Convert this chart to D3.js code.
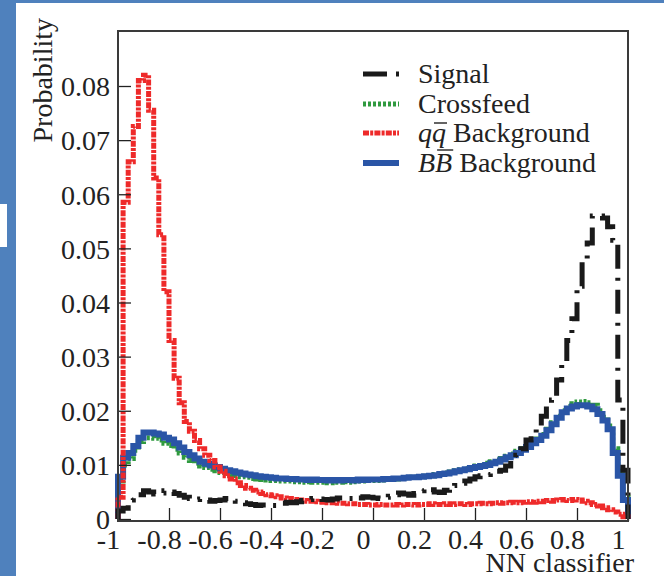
<!DOCTYPE html>
<html>
<head>
<meta charset="utf-8">
<script src="https://cdn.jsdelivr.net/npm/d3@7"></script>
<style>
  html, body { margin: 0; padding: 0; background: #fff; }
  svg { display: block; }
  text { font-family: "Liberation Serif", "Times New Roman", Times, serif; fill: #222; }
</style>
</head>
<body>
<svg id="chart" width="664" height="576"></svg>
<script>
// histogram binning: 100 bins on [-1, 1]
var xMin = -1, xMax = 1, nBins = 100;

// tick labels
var xTickValues = [-1, -0.8, -0.6, -0.4, -0.2, 0, 0.2, 0.4, 0.6, 0.8, 1];
var xTickLabels = ['-1', '-0.8', '-0.6', '-0.4', '-0.2', '0', '0.2', '0.4', '0.6', '0.8', '1'];
var yTickValues = [0, 0.01, 0.02, 0.03, 0.04, 0.05, 0.06, 0.07, 0.08];
var yTickLabels = ['0', '0.01', '0.02', '0.03', '0.04', '0.05', '0.06', '0.07', '0.08'];

// series (bin contents, left to right)
var signal = [
  0.0015, 0.0020, 0.0035, 0.0042, 0.0045, 0.0052, 0.0050, 0.0046, 0.0048, 0.0052,
  0.0050, 0.0047, 0.0044, 0.0040, 0.0038, 0.0036, 0.0037, 0.0035, 0.0033, 0.0034,
  0.0035, 0.0038, 0.0036, 0.0033, 0.0030, 0.0028, 0.0027, 0.0025, 0.0026, 0.0024,
  0.0025, 0.0027, 0.0029, 0.0031, 0.0030, 0.0032, 0.0034, 0.0036, 0.0038, 0.0037,
  0.0036, 0.0035, 0.0037, 0.0039, 0.0040, 0.0038, 0.0036, 0.0039, 0.0041, 0.0040,
  0.0039, 0.0038, 0.0040, 0.0042, 0.0045, 0.0048, 0.0046, 0.0044, 0.0047, 0.0052,
  0.0056, 0.0054, 0.0050, 0.0049, 0.0053, 0.0058, 0.0062, 0.0066, 0.0070, 0.0074,
  0.0078, 0.0080, 0.0082, 0.0085, 0.0088, 0.0090, 0.0098, 0.0112, 0.0118, 0.0130,
  0.0146, 0.0160, 0.0170, 0.0190, 0.0210, 0.0220, 0.0257, 0.0290, 0.0330, 0.0370,
  0.0430, 0.0480, 0.0510, 0.0560, 0.0560, 0.0556, 0.0540, 0.0515, 0.0220, 0.0090
];
var crossfeed = [
  0.0070, 0.0100, 0.0112, 0.0127, 0.0143, 0.0150, 0.0150, 0.0149, 0.0146, 0.0140,
  0.0136, 0.0129, 0.0122, 0.0114, 0.0108, 0.0103, 0.0098, 0.0095, 0.0092, 0.0089,
  0.0086, 0.0084, 0.0082, 0.0080, 0.0078, 0.0077, 0.0075, 0.0074, 0.0073, 0.0072,
  0.0071, 0.0071, 0.0070, 0.0070, 0.0069, 0.0069, 0.0068, 0.0069, 0.0068, 0.0068,
  0.0068, 0.0067, 0.0068, 0.0068, 0.0069, 0.0068, 0.0069, 0.0070, 0.0070, 0.0071,
  0.0071, 0.0072, 0.0073, 0.0073, 0.0074, 0.0075, 0.0076, 0.0077, 0.0077, 0.0078,
  0.0079, 0.0080, 0.0082, 0.0083, 0.0085, 0.0087, 0.0089, 0.0091, 0.0093, 0.0095,
  0.0098, 0.0100, 0.0103, 0.0106, 0.0109, 0.0112, 0.0116, 0.0120, 0.0125, 0.0130,
  0.0135, 0.0142, 0.0148, 0.0156, 0.0166, 0.0178, 0.0190, 0.0200, 0.0208, 0.0213,
  0.0216, 0.0217, 0.0215, 0.0210, 0.0200, 0.0188, 0.0172, 0.0130, 0.0088, 0.0040
];
var qqBkg = [
  0.0040, 0.0585, 0.0660, 0.0725, 0.0810, 0.0820, 0.0755, 0.0630, 0.0525, 0.0420,
  0.0330, 0.0260, 0.0215, 0.0180, 0.0162, 0.0145, 0.0130, 0.0118, 0.0108, 0.0096,
  0.0088, 0.0080, 0.0074, 0.0067, 0.0062, 0.0057, 0.0053, 0.0050, 0.0047, 0.0045,
  0.0043, 0.0041, 0.0039, 0.0038, 0.0036, 0.0035, 0.0034, 0.0033, 0.0033, 0.0032,
  0.0031, 0.0030, 0.0030, 0.0029, 0.0029, 0.0028, 0.0028, 0.0027, 0.0027, 0.0026,
  0.0026, 0.0027, 0.0026, 0.0026, 0.0027, 0.0026, 0.0027, 0.0027, 0.0026, 0.0027,
  0.0027, 0.0028, 0.0027, 0.0027, 0.0028, 0.0027, 0.0028, 0.0028, 0.0027, 0.0028,
  0.0028, 0.0029, 0.0028, 0.0029, 0.0030, 0.0029, 0.0030, 0.0031, 0.0030, 0.0031,
  0.0032, 0.0031, 0.0033, 0.0032, 0.0034, 0.0033, 0.0035, 0.0036, 0.0034, 0.0036,
  0.0035, 0.0033, 0.0030, 0.0027, 0.0024, 0.0021, 0.0017, 0.0013, 0.0009, 0.0004
];
var bbBkg = [
  0.0078, 0.0113, 0.0122, 0.0135, 0.0150, 0.0160, 0.0160, 0.0158, 0.0156, 0.0150,
  0.0147, 0.0140, 0.0132, 0.0124, 0.0118, 0.0112, 0.0106, 0.0102, 0.0099, 0.0096,
  0.0093, 0.0090, 0.0088, 0.0086, 0.0084, 0.0082, 0.0081, 0.0079, 0.0078, 0.0077,
  0.0076, 0.0075, 0.0075, 0.0074, 0.0074, 0.0073, 0.0073, 0.0072, 0.0073, 0.0072,
  0.0072, 0.0071, 0.0072, 0.0071, 0.0072, 0.0072, 0.0071, 0.0073, 0.0072, 0.0073,
  0.0073, 0.0073, 0.0074, 0.0074, 0.0075, 0.0075, 0.0076, 0.0077, 0.0077, 0.0078,
  0.0079, 0.0080, 0.0081, 0.0083, 0.0084, 0.0086, 0.0088, 0.0090, 0.0092, 0.0094,
  0.0096, 0.0098, 0.0100, 0.0103, 0.0106, 0.0110, 0.0114, 0.0118, 0.0122, 0.0128,
  0.0133, 0.0140, 0.0146, 0.0154, 0.0164, 0.0175, 0.0187, 0.0197, 0.0204, 0.0208,
  0.0210, 0.0210, 0.0208, 0.0203, 0.0194, 0.0182, 0.0166, 0.0122, 0.0080, 0.0035
];

var series = [
  { name: 'Crossfeed', values: crossfeed, color: '#2f9a3f', width: 5, dash: '3,2' },
  { name: 'BB', values: bbBkg, color: '#2a55a6', width: 6, dash: null },
  { name: 'qq', values: qqBkg, color: '#ee2a2a', width: 5, dash: '6,1.2,3,1.2' },
  { name: 'Signal', values: signal, color: '#1a1a1a', width: 5, dash: '24,9,3,9' }
];
var legendOrder = ['Signal', 'Crossfeed', 'qq', 'BB'];

var FONT = '"Liberation Serif", "Times New Roman", Times, serif';

var svg = d3.select('#chart');
var W = 664, H = 576;
var margin = { left: 118, right: 36, top: 31, bottom: 55 };

var x = d3.scaleLinear().domain([xMin, xMax]).range([margin.left, W - margin.right]);
var y = d3.scaleLinear().domain([0, 0.08]).range([519, 86]);
var yTop = y.invert(margin.top);

// slide background / border
svg.append('rect').attr('width', W).attr('height', H).attr('fill', '#fff');
svg.append('rect').attr('x', 0).attr('y', 0).attr('width', 16).attr('height', H).attr('fill', '#4f81bd');
svg.append('rect').attr('x', 0).attr('y', 0).attr('width', W).attr('height', 3).attr('fill', '#4f81bd');
svg.append('rect').attr('x', 0).attr('y', 204).attr('width', 7).attr('height', 43).attr('fill', '#fff');

var binW = (xMax - xMin) / nBins;

function histPoints(vals) {
  var pts = [[xMin, 0]];
  vals.forEach(function(v, i) {
    pts.push([xMin + i * binW, v]);
    pts.push([xMin + (i + 1) * binW, v]);
  });
  pts.push([xMax, 0]);
  return pts;
}

var lineFn = d3.line()
  .x(function(d) { return x(d[0]); })
  .y(function(d) { return y(d[1]); });

var plot = svg.append('g').attr('class', 'hists');
series.forEach(function(s) {
  plot.append('path')
    .attr('d', lineFn(histPoints(s.values)))
    .attr('fill', 'none')
    .attr('stroke', s.color)
    .attr('stroke-width', s.width)
    .attr('stroke-dasharray', s.dash)
    .attr('stroke-linejoin', 'miter');
});

// axes (ROOT style: ticks pointing inward)
var xMinor = d3.range(-1, 1.0001, 0.04);
var yMinor = d3.range(0, yTop, 0.002);

var xAxisG = svg.append('g').attr('transform', 'translate(0,' + (H - margin.bottom) + ')');
xAxisG.call(d3.axisBottom(x).tickValues(xMinor).tickSize(-7).tickFormat(''));
xAxisG.call(d3.axisBottom(x).tickValues(xTickValues).tickSize(-13)
  .tickFormat(function(d, i) { return xTickLabels[i]; }));
xAxisG.selectAll('.domain').remove();
xAxisG.selectAll('line').attr('stroke', '#222').attr('stroke-width', 1.3);
xAxisG.selectAll('text')
  .attr('y', 0).attr('dy', 0)
  .attr('transform', 'translate(-10,28)')
  .style('font-family', FONT)
  .style('font-size', '28px')
  .attr('fill', '#222');

var yAxisG = svg.append('g').attr('transform', 'translate(' + margin.left + ',0)');
yAxisG.call(d3.axisLeft(y).tickValues(yMinor).tickSize(-7).tickFormat(''));
yAxisG.call(d3.axisLeft(y).tickValues(yTickValues).tickSize(-13)
  .tickFormat(function(d, i) { return yTickLabels[i]; }));
yAxisG.selectAll('.domain').remove();
yAxisG.selectAll('line').attr('stroke', '#222').attr('stroke-width', 1.3);
yAxisG.selectAll('text')
  .attr('x', -8).attr('dy', '0.35em')
  .style('font-family', FONT)
  .style('font-size', '28px')
  .attr('fill', '#222');

// frame
svg.append('rect')
  .attr('x', margin.left).attr('y', margin.top)
  .attr('width', W - margin.left - margin.right)
  .attr('height', H - margin.top - margin.bottom)
  .attr('fill', 'none').attr('stroke', '#3a3a3a').attr('stroke-width', 2);

// axis titles
svg.append('text')
  .attr('x', 634).attr('y', 572)
  .attr('text-anchor', 'end')
  .style('font-family', FONT)
  .style('font-size', '28px')
  .text('NN classifier');

svg.append('text')
  .attr('transform', 'translate(52,18) rotate(-90)')
  .attr('text-anchor', 'end')
  .style('font-family', FONT)
  .style('font-size', '28px')
  .text('Probability');

// legend
var legX0 = 363, legX1 = 399, legTextX = 418;
var legBase = [83, 113, 142, 172];
var legend = svg.append('g').attr('class', 'legend');

legendOrder.forEach(function(name, i) {
  var s = series.filter(function(d) { return d.name === name; })[0];
  var cy = legBase[i] - 9;
  legend.append('line')
    .attr('x1', legX0).attr('x2', legX1).attr('y1', cy).attr('y2', cy)
    .attr('stroke', s.color).attr('stroke-width', s.width)
    .attr('stroke-dasharray', s.dash);

  var t = legend.append('text')
    .attr('x', legTextX).attr('y', legBase[i])
    .style('font-family', FONT)
    .style('font-size', '28px');

  if (name === 'Signal' || name === 'Crossfeed') {
    t.text(name);
  } else {
    var ch = name === 'qq' ? 'q' : 'B';
    var first = t.append('tspan').style('font-style', 'italic').text(ch);
    var second = t.append('tspan').style('font-style', 'italic').text(ch);
    t.append('tspan').text(' Background');
    // bar over the second letter
    var w1 = first.node().getComputedTextLength();
    var w2 = second.node().getComputedTextLength();
    var bx = legTextX + w1;
    var barY = legBase[i] - (ch === 'q' ? 19 : 22);
    legend.append('line')
      .attr('x1', bx + 2).attr('x2', bx + w2 + 1)
      .attr('y1', barY).attr('y2', barY)
      .attr('stroke', '#222').attr('stroke-width', 1.4);
  }
});
</script>
</body>
</html>
